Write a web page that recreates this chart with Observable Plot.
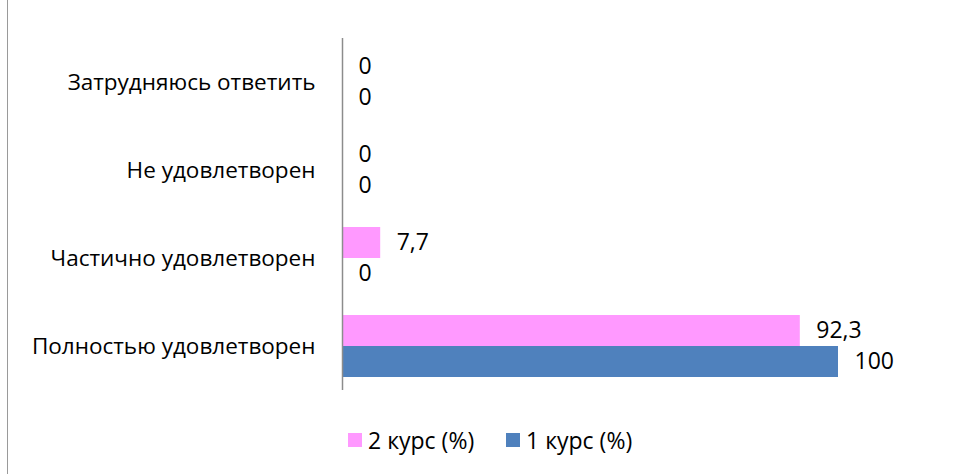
<!DOCTYPE html>
<html><head><meta charset="utf-8">
<script src="https://cdn.jsdelivr.net/npm/d3@7"></script>
<script src="https://cdn.jsdelivr.net/npm/@observablehq/plot@0.6"></script>
<style>
body{margin:0;background:#fff;}
#wrap{position:relative;width:953px;height:474px;overflow:hidden;font-family:"Open Sans",sans-serif;}
#frame{position:absolute;left:7px;top:0;width:0;height:474px;border-left:1.5px solid #9a9a9a;}
#legend{position:absolute;top:425px;left:0;width:953px;height:30px;font-size:23px;color:#000;}
.it{position:absolute;top:0;display:flex;align-items:center;height:30px;}
.sw{width:14px;height:14px;margin-right:6px;}
</style></head>
<body><div id="wrap"><div id="frame"></div><div id="chart"></div><div id="legend"></div></div>
<script>
const categories = ["Затрудняюсь ответить","Не удовлетворен","Частично удовлетворен","Полностью удовлетворен"];
const series = ["2 курс (%)","1 курс (%)"];
const course2 = [0, 0, 7.7, 92.3];
const course1 = [0, 0, 0, 100];
const colors = ["#ff99ff","#4f81bd"];

const data = [];
categories.forEach((c,i)=>{
  data.push({cat:c, s:series[0], v:course2[i]});
  data.push({cat:c, s:series[1], v:course1[i]});
});
const fmt = v => String(v).replace(".", ",");

const chart = Plot.plot({
  width: 953, height: 420,
  marginLeft: 342, marginRight: 115, marginTop: 38, marginBottom: 30,
  style:{fontFamily:'"Open Sans",sans-serif', fontSize:"22.5px", color:"#000", background:"transparent"},
  x:{domain:[0,100], axis:null},
  y:{domain:series, axis:null, paddingInner:0, paddingOuter:0.4},
  fy:{domain:categories, padding:0, label:null, tickSize:0, tickPadding:27},
  color:{domain:series, range:colors},
  marks:[
    Plot.barX(data,{fy:"cat", y:"s", x:"v", fill:"s"}),
    Plot.text(data,{fy:"cat", y:"s", x:"v", text:d=>fmt(d.v), textAnchor:"start", dx:16, fill:"#000", fontSize:23}),
    Plot.ruleX([0],{stroke:"#8c8c8c", strokeWidth:1.5})
  ]
});
document.getElementById("chart").appendChild(chart);

const lg = document.getElementById("legend");
const pos = [348, 506];
series.forEach((s,i)=>{
  const it = document.createElement("div");
  it.className="it"; it.style.left = pos[i]+"px";
  it.innerHTML = `<div class="sw" style="background:${colors[i]}"></div><span>${s}</span>`;
  lg.appendChild(it);
});
</script></body></html>
